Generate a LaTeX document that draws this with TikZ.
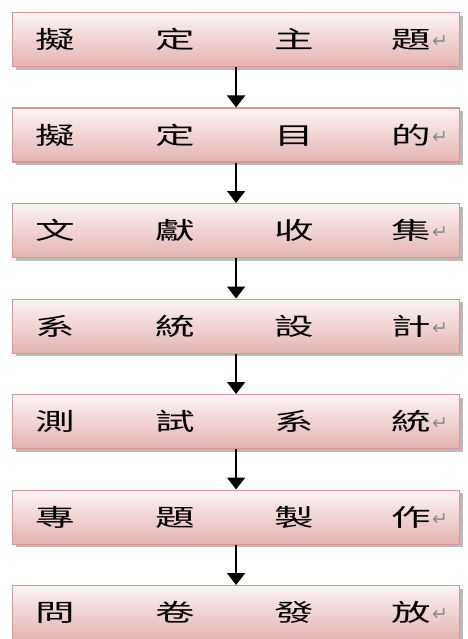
\documentclass[tikz,border=0pt]{standalone}
\usepackage{fontspec}
\usepackage{graphicx}
\newfontfamily\cjk{Noto Sans CJK TC}
\newfontfamily\symf{DejaVu Sans}
\usetikzlibrary{shadows,arrows.meta}
\definecolor{boxtop}{HTML}{FCF4F4}
\definecolor{boxbot}{HTML}{E3B3B2}
\definecolor{boxline}{HTML}{D99694}
\newcommand{\zc}[1]{\scalebox{1.65}[1]{#1}}
\newcommand{\rowtxt}[4]{\makebox[447pt][l]{\hspace{23pt}\zc{#1}\hspace{80pt}\zc{#2}\hspace{80pt}\zc{#3}\hspace{77pt}\zc{#4}\hspace{1pt}\raisebox{1pt}{\symf\fontsize{19}{19}\selectfont\color{black!45}↵}}}
\tikzset{
  stepbox/.style={draw=boxline, line width=1.2pt, top color=boxtop, bottom color=boxbot,
    inner sep=0pt, minimum height=54pt, anchor=north west,
    font=\cjk\fontsize{24}{24}\selectfont,
    drop shadow={shadow xshift=3pt, shadow yshift=-3pt, opacity=0.45, fill=black!60}},
  flowarrow/.style={line width=1.8pt, -{Triangle[width=18pt,length=12pt]}}
}
\begin{document}
\begin{tikzpicture}[x=1pt,y=-1pt]
\useasboundingbox (0,0) rectangle (467,639);
\node[stepbox] (b1) at (12,12)    {\rowtxt{擬}{定}{主}{題}};
\node[stepbox] (b2) at (12,107.5) {\rowtxt{擬}{定}{目}{的}};
\node[stepbox] (b3) at (12,203)   {\rowtxt{文}{獻}{收}{集}};
\node[stepbox] (b4) at (12,298.5) {\rowtxt{系}{統}{設}{計}};
\node[stepbox] (b5) at (12,394)   {\rowtxt{測}{試}{系}{統}};
\node[stepbox] (b6) at (12,489.5) {\rowtxt{專}{題}{製}{作}};
\node[stepbox] (b7) at (12,585)   {\rowtxt{問}{卷}{發}{放}};
\draw[flowarrow] (b1.south) -- (b2.north);
\draw[flowarrow] (b2.south) -- (b3.north);
\draw[flowarrow] (b3.south) -- (b4.north);
\draw[flowarrow] (b4.south) -- (b5.north);
\draw[flowarrow] (b5.south) -- (b6.north);
\draw[flowarrow] (b6.south) -- (b7.north);
\end{tikzpicture}
\end{document}
